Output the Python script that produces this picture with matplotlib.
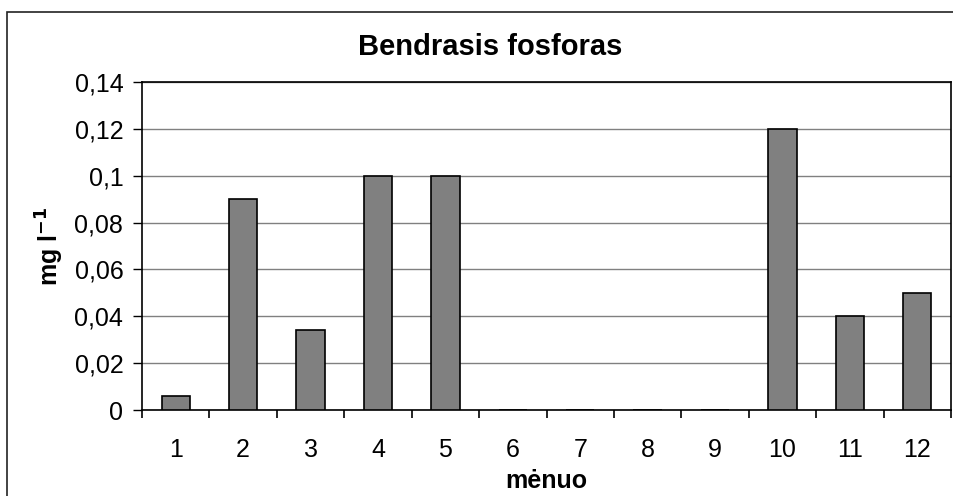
import matplotlib
matplotlib.use("Agg")
import matplotlib.pyplot as plt
import numpy as np
from matplotlib.patches import Rectangle
from matplotlib.ticker import FixedLocator, FuncFormatter

plt.rcParams["font.family"] = ["Liberation Sans", "DejaVu Sans"]

months = [1, 2, 3, 4, 5, 6, 7, 8, 9, 10, 11, 12]
phosphorus = [0.006, 0.09, 0.034, 0.1, 0.1, 0, 0, 0, 0, 0.12, 0.04, 0.05]
y_ticks = [0, 0.02, 0.04, 0.06, 0.08, 0.1, 0.12, 0.14]

W, H = 954, 496
fig = plt.figure(figsize=(W / 100, H / 100), dpi=100)

# chart area frame, runs off the right and bottom edges
fig.add_artist(Rectangle((7 / W, -0.05), 1.1, 1 - 12 / H + 0.05,
                         transform=fig.transFigure, fill=False,
                         edgecolor="#222222", linewidth=1.2))

ax = fig.add_axes([142 / W, (H - 410) / H, (951 - 142) / W, (410 - 82) / H])

x = np.arange(len(months))
ax.bar(x, phosphorus, width=0.42, color="#808080", edgecolor="black",
       linewidth=1.2, zorder=3)

ax.set_xlim(-0.5, len(months) - 0.5)
ax.set_ylim(0, 0.14)
ax.set_yticks(y_ticks)
ax.yaxis.set_major_formatter(FuncFormatter(lambda v, p: f"{v:g}".replace(".", ",")))
ax.yaxis.grid(True, color="#808080", linewidth=1, zorder=0)

# ticks between categories, labels in the middle
ax.xaxis.set_major_locator(FixedLocator(np.arange(len(months) + 1) - 0.5))
ax.xaxis.set_major_formatter(FuncFormatter(lambda v, p: ""))
ax.xaxis.set_minor_locator(FixedLocator(x))
ax.set_xticklabels([str(m) for m in months], minor=True)
ax.tick_params(axis="x", which="minor", length=0, pad=20, labelsize=18)
ax.tick_params(axis="x", which="major", length=6, width=1.2, direction="out")
ax.tick_params(axis="y", length=6.5, width=1, pad=7, labelsize=18)

for s in ax.spines.values():
    s.set_color("black")
    s.set_linewidth(1.2)

ax.set_xlabel("mėnuo", fontsize=18, fontweight="bold", labelpad=5)
ax.set_ylabel("mg l$^{\\mathbf{-1}}$", fontsize=18, fontweight="bold", labelpad=6)
fig.text(490 / W, 1 - 47 / H, "Bendrasis fosforas", ha="center", va="center",
         fontsize=21, fontweight="bold")

fig.savefig("out.png", dpi=100)
